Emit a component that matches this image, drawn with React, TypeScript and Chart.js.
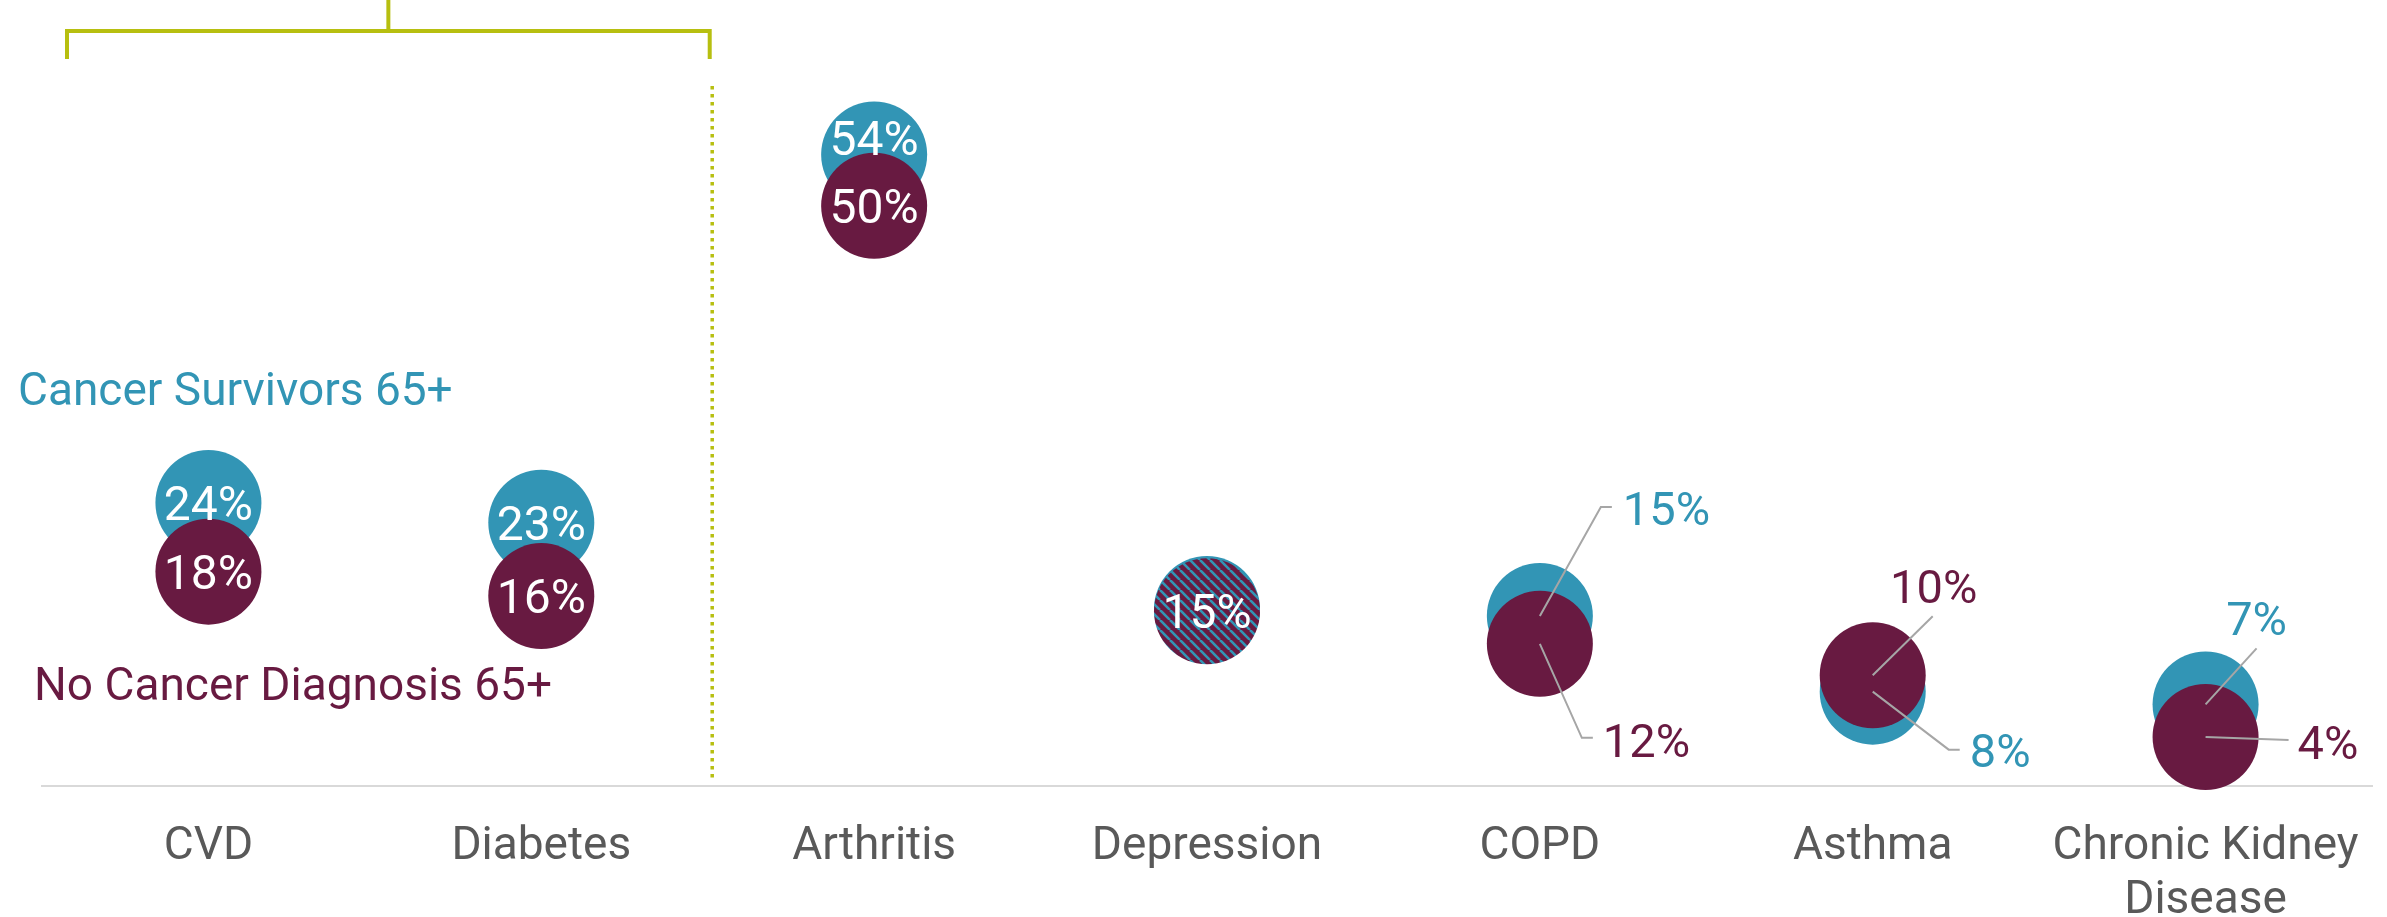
import React, { useEffect, useRef } from 'react';
import { Chart, registerables } from 'chart.js';

Chart.register(...registerables);

// ---------- data ----------
const categories: (string | string[])[] = ['CVD', 'Diabetes', 'Arthritis', 'Depression', 'COPD', 'Asthma', ['Chronic Kidney', 'Disease']];
const survivorValues = [24.3, 22.6, 54.2, 15.2, 14.6, 8.1, 7.0];
const noCancerValues = [18.4, 16.3, 49.8, 15.0, 12.2, 9.5, 4.2];
const survivorLabels = ['24%', '23%', '54%', '15%', '15%', '8%', '7%'];
const noCancerLabels = ['18%', '16%', '50%', '15%', '12%', '10%', '4%'];
const seriesNames = ['Cancer Survivors 65+', 'No Cancer Diagnosis 65+'];

// ---------- styles ----------
const TEAL = '#3295B5';
const MAROON = '#681A41';
const LIME = '#B7BF10';
const LEADER = '#A6A6A6';
const AXIS_TEXT = '#595959';
const FONT = 'Roboto';

type Callout = { path: [number, number][]; text: [number, number]; align: CanvasTextAlign };
// label styles per category: inside labels, merged (hatched), or callouts with leader lines
const labelStyle = ['inside', 'inside', 'inside', 'merged', 'callout', 'callout', 'callout'];
const calloutSurvivor: Record<number, Callout> = {
  4: { path: [[61, -109], [72, -109]], text: [83, -108], align: 'left' },
  5: { path: [[76, 58], [87, 58]], text: [97, 59], align: 'left' },
  6: { path: [[51, -56]], text: [51, -86], align: 'center' },
};
const calloutNoCancer: Record<number, Callout> = {
  4: { path: [[42, 94], [53, 94]], text: [63, 96], align: 'left' },
  5: { path: [[60, -59]], text: [61, -89], align: 'center' },
  6: { path: [[83, 3]], text: [92, 5], align: 'left' },
};

function drawCapText(ctx: CanvasRenderingContext2D, text: string, x: number, yCenter: number, size: number, color: string, align: CanvasTextAlign) {
  ctx.font = `${size}px ${FONT}`;
  ctx.fillStyle = color;
  ctx.textAlign = align;
  ctx.textBaseline = 'alphabetic';
  ctx.fillText(text, x, yCenter + size * 0.355);
}

const decorPlugin = {
  id: 'decor',
  beforeDatasetsDraw(chart: any) {
    const ctx: CanvasRenderingContext2D = chart.ctx;
    const xs = chart.scales.x;
    const area = chart.chartArea;
    const boundary = (xs.getPixelForValue(1) + xs.getPixelForValue(2)) / 2;
    ctx.save();
    // bracket
    const bl = area.left + 25;
    const br = boundary + 2;
    const bc = (bl + br) / 2;
    ctx.strokeStyle = LIME;
    ctx.lineWidth = 4;
    ctx.lineJoin = 'miter';
    ctx.lineCap = 'butt';
    ctx.beginPath();
    ctx.moveTo(bl, 59);
    ctx.lineTo(bl, 31);
    ctx.lineTo(br, 31);
    ctx.lineTo(br, 59);
    ctx.stroke();
    ctx.beginPath();
    ctx.moveTo(bc, 0);
    ctx.lineTo(bc, 31);
    ctx.stroke();
    // dotted separator
    ctx.lineWidth = 3.5;
    ctx.setLineDash([3.5, 4.5]);
    ctx.beginPath();
    ctx.moveTo(boundary + 4.5, area.top - 1);
    ctx.lineTo(boundary + 4.5, area.bottom - 6);
    ctx.stroke();
    ctx.setLineDash([]);
    // series names
    ctx.font = `46px ${FONT}`;
    ctx.textAlign = 'left';
    ctx.textBaseline = 'alphabetic';
    ctx.fillStyle = TEAL;
    ctx.fillText(seriesNames[0], 18, 405);
    ctx.fillStyle = MAROON;
    ctx.fillText(seriesNames[1], 34, 700);
    ctx.restore();
  },
  afterDatasetsDraw(chart: any) {
    const ctx: CanvasRenderingContext2D = chart.ctx;
    const sMeta = chart.getDatasetMeta(0);
    const nMeta = chart.getDatasetMeta(1);
    ctx.save();
    categories.forEach((_, i) => {
      const sp = sMeta.data[i];
      const np = nMeta.data[i];
      const style = labelStyle[i];
      if (style === 'inside') {
        drawCapText(ctx, survivorLabels[i], sp.x, Math.min(sp.y, np.y - 68), 48, '#ffffff', 'center');
        drawCapText(ctx, noCancerLabels[i], np.x, np.y, 48, '#ffffff', 'center');
      } else if (style === 'merged') {
        drawCapText(ctx, noCancerLabels[i], np.x, np.y, 48, '#ffffff', 'center');
      } else {
        const pairs: [any, Callout, string, string][] = [
          [sp, calloutSurvivor[i], survivorLabels[i], TEAL],
          [np, calloutNoCancer[i], noCancerLabels[i], MAROON],
        ];
        pairs.forEach(([p, c, label, color]) => {
          ctx.strokeStyle = LEADER;
          ctx.lineWidth = 2;
          ctx.beginPath();
          ctx.moveTo(p.x, p.y);
          c.path.forEach(([dx, dy]) => ctx.lineTo(p.x + dx, p.y + dy));
          ctx.stroke();
          drawCapText(ctx, label, p.x + c.text[0], p.y + c.text[1], 47, color, c.align);
        });
      }
    });
    ctx.restore();
  },
};

export default function App() {
  const ref = useRef<HTMLCanvasElement | null>(null);

  useEffect(() => {
    const canvas = ref.current;
    if (!canvas) return;
    const ctx = canvas.getContext('2d')!;

    const pc = document.createElement('canvas');
    pc.width = 10;
    pc.height = 10;
    const g = pc.getContext('2d')!;
    g.fillStyle = MAROON;
    g.fillRect(0, 0, 10, 10);
    g.strokeStyle = TEAL;
    g.lineWidth = 2.6;
    [-1, 0, 1].forEach((k) => {
      g.beginPath();
      g.moveTo(k * 10, 0);
      g.lineTo(k * 10 + 10, 10);
      g.stroke();
    });
    const pattern = ctx.createPattern(pc, 'repeat');

    const noCancerColors = noCancerValues.map((_, i) =>
      survivorLabels[i] === noCancerLabels[i] && pattern ? pattern : MAROON
    );

    const chart = new Chart(canvas, {
      type: 'line',
      data: {
        labels: categories as any,
        datasets: [
          {
            label: seriesNames[0],
            data: survivorValues,
            showLine: false,
            pointRadius: 53,
            pointHoverRadius: 53,
            pointBorderWidth: 0,
            pointBackgroundColor: TEAL,
            pointBorderColor: TEAL,
            clip: false as any,
            order: 1,
          },
          {
            label: seriesNames[1],
            data: noCancerValues,
            showLine: false,
            pointRadius: 53,
            pointHoverRadius: 53,
            pointBorderWidth: 0,
            pointBackgroundColor: noCancerColors as any,
            pointBorderColor: MAROON,
            clip: false as any,
            order: 0,
          },
        ],
      },
      options: {
        animation: false,
        responsive: false,
        events: [],
        layout: { autoPadding: false, padding: { top: 87, left: 42, right: 15, bottom: 0 } },
        scales: {
          x: {
            type: 'category',
            offset: true,
            grid: { display: false, drawTicks: false },
            border: { display: true, color: '#D9D9D9', width: 2 },
            ticks: {
              color: AXIS_TEXT,
              font: { family: FONT, size: 46, lineHeight: 1.16 },
              padding: 35,
              maxRotation: 0,
              autoSkip: false,
            },
            afterFit: (scale: any) => {
              scale.height = 138;
              scale.paddingLeft = 0;
              scale.paddingRight = 0;
            },
          },
          y: { display: false, min: 0, max: 60 },
        },
        plugins: {
          legend: { display: false },
          tooltip: { enabled: false },
        },
      },
      plugins: [decorPlugin],
    });

    return () => chart.destroy();
  }, []);

  return (
    <div style={{ position: 'fixed', left: 0, top: 0, width: 2387, height: 917, overflow: 'hidden', background: '#ffffff' }}>
      <canvas ref={ref} width={2387} height={924} style={{ display: 'block', width: 2387, height: 924 }} />
    </div>
  );
}
